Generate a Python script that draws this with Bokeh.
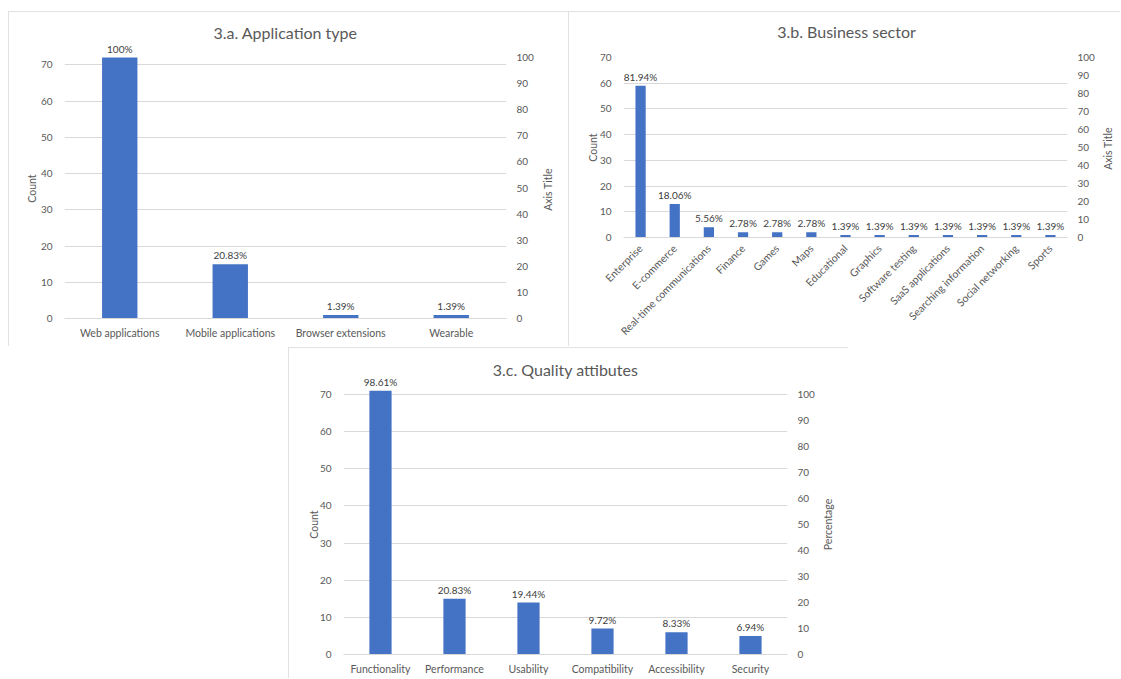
import math
from bokeh.plotting import figure
from bokeh.models import (FactorRange, Range1d, LinearAxis, FixedTicker,
                          ColumnDataSource, LabelSet)
from bokeh.core.properties import value
from bokeh.embed import file_html
from bokeh.resources import INLINE

# ---------------- data ----------------
app_types = ["Web applications", "Mobile applications", "Browser extensions", "Wearable"]
app_counts = [72, 15, 1, 1]
app_pct = ["100%", "20.83%", "1.39%", "1.39%"]

sectors = ["Enterprise", "E-commerce", "Real-time communications", "Finance", "Games", "Maps",
           "Educational", "Graphics", "Software testing", "SaaS applications",
           "Searching information", "Social networking", "Sports"]
sector_counts = [59, 13, 4, 2, 2, 2, 1, 1, 1, 1, 1, 1, 1]
sector_pct = ["81.94%", "18.06%", "5.56%", "2.78%", "2.78%", "2.78%", "1.39%", "1.39%",
              "1.39%", "1.39%", "1.39%", "1.39%", "1.39%"]

qualities = ["Functionality", "Performance", "Usability", "Compatibility", "Accessibility", "Security"]
quality_counts = [71, 15, 14, 7, 6, 5]
quality_pct = ["98.61%", "20.83%", "19.44%", "9.72%", "8.33%", "6.94%"]

count_ticks = [0, 10, 20, 30, 40, 50, 60, 70]
pct_ticks = [0, 10, 20, 30, 40, 50, 60, 70, 80, 90, 100]

FONT = "Lato"
TXT = "#595959"
GRID = "#d9d9d9"
BAR = "#4472C4"


def style_title(t, vertical_align, standoff):
    t.align = "center"
    t.text_font = FONT
    t.text_font_size = "16px"
    t.text_font_style = "normal"
    t.text_color = TXT
    t.vertical_align = vertical_align
    t.standoff = standoff


def panel(title, cats, counts, pcts, width, height, count_max,
          mb, extra_top, bar_width, pos, rotate=False):
    left, right, top, bottom = mb
    frame_h = height - top - bottom              # visible value span
    ext_h = frame_h + extra_top                  # frame incl. room for value labels
    y_end = count_max * ext_h / frame_h
    p = figure(x_range=FactorRange(*cats), y_range=Range1d(0, y_end),
               width=width, height=height, output_backend="svg", toolbar_location=None,
               min_border_left=left, min_border_right=right,
               min_border_top=top - extra_top, min_border_bottom=bottom)
    p.styles = {"outline": "1px solid #d9d9d9", "outline-offset": "-1px",
                "position": "absolute", "left": f"{pos[0]}px", "top": f"{pos[1]}px"}
    p.outline_line_color = None
    p.background_fill_color = "white"
    p.border_fill_color = "white"

    p.title.text = title
    style_title(p.title, "bottom", 0)

    src = ColumnDataSource(dict(cat=cats, cnt=counts, lab=pcts))
    p.vbar(x="cat", top="cnt", width=bar_width, source=src, fill_color=BAR, line_color=None)
    p.add_layout(LabelSet(x="cat", y="cnt", text="lab", source=src, text_align="center",
                          text_baseline="bottom", y_offset=3, text_font=value(FONT),
                          text_font_size=value("10px"), text_color="#404040"))

    la = p.yaxis[0]
    la.ticker = FixedTicker(ticks=count_ticks)
    p.extra_y_ranges = {"pct": Range1d(0, 100 * ext_h / frame_h)}
    ra = LinearAxis(y_range_name="pct", ticker=FixedTicker(ticks=pct_ticks))
    p.add_layout(ra, "right")

    for ax in (la, ra):
        ax.axis_line_color = None
        ax.major_tick_line_color = None
        ax.minor_tick_line_color = None
        ax.major_tick_out = 0
        ax.major_tick_in = 0
        ax.minor_tick_out = 0
        ax.major_label_text_font = FONT
        ax.major_label_text_font_size = "10px"
        ax.major_label_text_color = TXT
    la.major_label_standoff = 12
    ra.major_label_standoff = 10

    xa = p.xaxis[0]
    xa.axis_line_color = GRID
    xa.major_tick_line_color = None
    xa.minor_tick_line_color = None
    xa.major_tick_out = 0
    xa.major_tick_in = 0
    xa.major_label_text_font = FONT
    xa.major_label_text_font_size = "10.5px"
    xa.major_label_text_color = TXT
    xa.major_label_standoff = 8
    if rotate:
        xa.major_label_orientation = math.pi / 4
        xa.major_label_standoff = 9

    p.xgrid.grid_line_color = None
    p.ygrid.grid_line_color = GRID
    p.ygrid.grid_line_width = 1
    return p


def axis_title(text, cx, cy):
    """Vertical axis title (reads bottom-to-top), centred at page point (cx, cy)."""
    f = figure(width=20, height=80, x_range=Range1d(0, 1), y_range=Range1d(0, 1),
               output_backend="svg", toolbar_location=None, x_axis_location=None,
               min_border_left=16, min_border_right=0, min_border_top=0, min_border_bottom=0)
    f.styles = {"position": "absolute", "left": f"{cx - 10}px", "top": f"{cy - 40}px"}
    f.background_fill_color = None
    f.border_fill_color = None
    f.outline_line_color = None
    f.grid.visible = False
    ax = f.yaxis[0]
    ax.ticker = FixedTicker(ticks=[])
    ax.axis_line_color = None
    ax.major_tick_line_color = None
    ax.minor_tick_line_color = None
    ax.major_tick_out = 0
    ax.major_tick_in = 0
    ax.minor_tick_out = 0
    ax.minor_tick_in = 0
    ax.major_label_text_font_size = "0px"
    ax.major_label_standoff = 0
    ax.axis_label = text
    ax.axis_label_standoff = 0
    ax.axis_label_text_font = FONT
    ax.axis_label_text_font_size = "10.5px"
    ax.axis_label_text_font_style = "normal"
    ax.axis_label_text_color = TXT
    return f


def chart_title(text, cx, cy):
    """Chart title centred at page point (cx, cy)."""
    f = figure(width=300, height=40, x_range=Range1d(0, 1), y_range=Range1d(0, 1),
               output_backend="svg", toolbar_location=None, x_axis_location=None,
               y_axis_location=None, min_border_left=0, min_border_right=0,
               min_border_top=0, min_border_bottom=0, title=text)
    f.styles = {"position": "absolute", "left": f"{cx - 150}px", "top": f"{cy - 13}px"}
    f.background_fill_color = None
    f.border_fill_color = None
    f.outline_line_color = None
    f.grid.visible = False
    style_title(f.title, "bottom", 0)
    return f


pa = panel("3.a. Application type", app_types, app_counts, app_pct, 560, 335, 72,
           (56, 62, 46, 28), 16, 0.32, (8, 11))
pb = panel("", sectors, sector_counts, sector_pct, 552, 335, 70,
           (55, 53, 46, 109), 0, 0.3, (568, 11), rotate=True)
pc = panel("3.c. Quality attibutes", qualities, quality_counts, quality_pct, 560, 331, 70,
           (55, 61, 47, 24), 16, 0.3, (288, 347))

overlays = [
    chart_title("3.b. Business sector", 846, 32),
    axis_title("Count", 31, 188),
    axis_title("Axis Title", 547, 189),
    axis_title("Count", 592, 147),
    axis_title("Axis Title", 1107, 148),
    axis_title("Count", 313, 524),
    axis_title("Percentage", 827, 524),
]

open("out.html", "w").write(file_html([pa, pb, pc] + overlays, INLINE))
